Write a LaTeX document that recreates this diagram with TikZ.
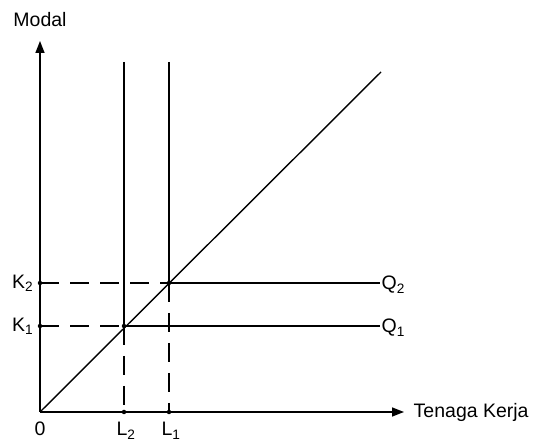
\documentclass[tikz,border=0pt]{standalone}
\usepackage{fontspec}
\setmainfont{Liberation Sans}
\usetikzlibrary{arrows.meta}
\begin{document}
\begin{tikzpicture}[x=1pt,y=1pt,
  ax/.style={line width=1.4pt,-{Triangle[length=12pt,width=9pt]}},
  ln/.style={line width=1.4pt},
  dsh/.style={line width=1.4pt,dash pattern=on 19pt off 11pt},
  lab/.style={font=\fontsize{19.5}{21}\selectfont,inner sep=0.5pt},
  dot/.style={circle,fill=black,inner sep=0pt,minimum size=4.5pt}]
\useasboundingbox (0,0) rectangle (538,441);
\fill[white] (0,0) rectangle (538,441);
\coordinate (O) at (40,29);
\coordinate (Ytop) at (40,400);
\coordinate (Xend) at (404,29);
\coordinate (K2) at (40,158);
\coordinate (K1) at (40,115);
\coordinate (L2) at (124,29);
\coordinate (L1) at (169,29);
\coordinate (A) at (124,115);
\coordinate (B) at (169,158);
\coordinate (T2) at (124,379);
\coordinate (T1) at (169,379);
\coordinate (Q2e) at (380,158);
\coordinate (Q1e) at (380,115);
\coordinate (D) at (381,369);
% axes
\draw[ax] (O) -- (Ytop);
\draw[ax] (O) -- (Xend);
% verticals
\draw[ln] (T2) -- (A);
\draw[ln] (T1) -- (B);
\draw[dsh] (A) -- (L2);
\draw[dsh] (B) -- (L1);
% horizontals
\draw[dsh] (K2) -- (B);
\draw[dsh] (K1) -- (A);
\draw[ln] (B) -- (Q2e);
\draw[ln] (A) -- (Q1e);
% diagonal
\draw[ln] (O) -- (D);
% dots
\foreach \p in {K1,K2,L1,L2,A,B} \node[dot] at (\p) {};
% labels
\node[lab] (modal) at (40,421) {Modal};
\node[lab,anchor=base] (zero) at (40,5) {0};
\node[lab,anchor=base] (l2) at (126,5) {L\textsubscript{2}};
\node[lab,anchor=base] (l1) at (171,5) {L\textsubscript{1}};
\node[lab,anchor=east] (k2) at (34,158) {K\textsubscript{2}};
\node[lab,anchor=east] (k1) at (34,115) {K\textsubscript{1}};
\node[lab,anchor=west] (q2) at (381,156) {Q\textsubscript{2}};
\node[lab,anchor=west] (q1) at (381,113) {Q\textsubscript{1}};
\node[lab,anchor=west] (tk) at (413,29) {Tenaga Kerja};
\end{tikzpicture}
\end{document}
